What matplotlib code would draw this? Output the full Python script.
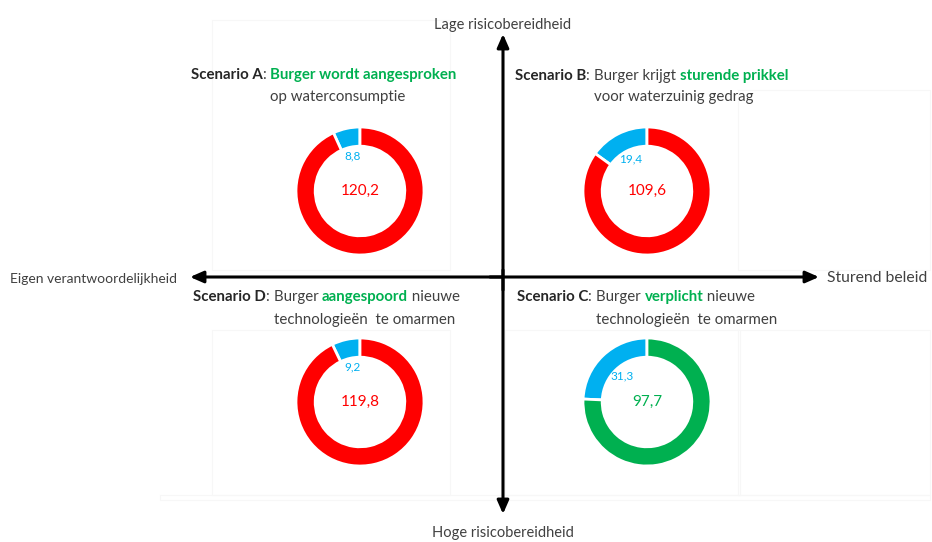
import numpy as np
import matplotlib
matplotlib.use("Agg")
import matplotlib.pyplot as plt

plt.rcParams['font.family'] = ['Lato', 'DejaVu Sans']

# data
scenario_names = ['A', 'B', 'D', 'C']
blue_values = [8.8, 19.4, 9.2, 31.3]
main_values = [120.2, 109.6, 119.8, 97.7]
main_colors = ['#FF0000', '#FF0000', '#FF0000', '#00B050']
blue_color = '#00B0F0'

# title pieces: (text, color, bold)
titles = {
    'A': [[('Scenario A', '#262626', True), (': ', '#404040', False),
           ('Burger wordt aangesproken', '#00B050', True)],
          [('op waterconsumptie', '#404040', False)]],
    'B': [[('Scenario B', '#262626', True), (': ', '#404040', False),
           ('Burger krijgt ', '#404040', False), ('sturende prikkel', '#00B050', True)],
          [('voor waterzuinig gedrag', '#404040', False)]],
    'D': [[('Scenario D', '#262626', True), (': ', '#404040', False),
           ('Burger ', '#404040', False), ('aangespoord', '#00B050', True),
           (' nieuwe', '#404040', False)],
          [('technologieën  te omarmen', '#404040', False)]],
    'C': [[('Scenario C', '#262626', True), (': ', '#404040', False),
           ('Burger ', '#404040', False), ('verplicht', '#00B050', True),
           (' nieuwe', '#404040', False)],
          [('technologieën  te omarmen', '#404040', False)]],
}

W, H = 932, 542
fig = plt.figure(figsize=(W / 100, H / 100), dpi=100)
fig.patch.set_facecolor('white')
ax = fig.add_axes([0, 0, 1, 1])
ax.set_xlim(0, W)
ax.set_ylim(H, 0)
ax.axis('off')

# faint background boxes
for x0, y0, x1, y1 in [(212, 20, 450, 270), (738, 90, 930, 270),
                       (212, 330, 450, 495), (505, 330, 740, 495), (738, 330, 930, 495),
                       (160, 495, 930, 500)]:
    ax.plot([x0, x1, x1, x0, x0], [y0, y0, y1, y1, y0], color='#f7f7f7', lw=0.8, zorder=0)

# axes arrows
arrow = dict(arrowstyle='-|>,head_length=0.8,head_width=0.35', color='black', lw=2.2,
             shrinkA=0, shrinkB=0)
ax.annotate('', xy=(190, 277), xytext=(503, 277), arrowprops=arrow)
ax.annotate('', xy=(819, 277), xytext=(490, 277), arrowprops=arrow)
ax.annotate('', xy=(503, 34), xytext=(503, 290), arrowprops=arrow)
ax.annotate('', xy=(503, 514), xytext=(503, 270), arrowprops=arrow)

ax.text(503, 25, 'Lage risicobereidheid', ha='center', va='center', fontsize=10.5, color='#404040')
ax.text(503, 533, 'Hoge risicobereidheid', ha='center', va='center', fontsize=10.5, color='#404040')
ax.text(10, 279, 'Eigen verantwoordelijkheid', ha='left', va='center', fontsize=10, color='#404040')
ax.text(827, 278, 'Sturend beleid', ha='left', va='center', fontsize=11.3, color='#404040')

renderer = fig.canvas.get_renderer()


def draw_segments(x, y, segments, size=10.8):
    positions = []
    for txt, col, bold in segments:
        t = ax.text(x, y, txt, color=col, fontsize=size, ha='left', va='center',
                    fontweight='bold' if bold else 'normal')
        positions.append(x)
        bb = t.get_window_extent(renderer=renderer)
        x += bb.width
    return positions


title_pos = {'A': (191, 75, 97), 'B': (515, 76, 97), 'D': (193, 297, 320), 'C': (517, 297, 320)}
centers = {'A': (360, 191), 'B': (647, 191), 'D': (360, 402), 'C': (647, 402)}
R = 64

for name, bval, mval, mcol in zip(scenario_names, blue_values, main_values, main_colors):
    x0, y1, y2 = title_pos[name]
    pos = draw_segments(x0, y1, titles[name][0])
    # second line hangs under "Burger"
    draw_segments(pos[2], y2, titles[name][1])

    cx, cy = centers[name]
    dax = fig.add_axes([(cx - R) / W, 1 - (cy + R) / H, 2 * R / W, 2 * R / H])
    wedges, _ = dax.pie([bval, mval], colors=[blue_color, mcol], startangle=90,
                        counterclock=True, radius=1,
                        wedgeprops=dict(width=0.3, edgecolor='white', linewidth=2))
    dax.set_xlim(-1, 1)
    dax.set_ylim(-1, 1)
    dax.axis('off')
    w = wedges[0]
    ang = np.deg2rad((w.theta1 + w.theta2) / 2)
    dax.text(0.56 * np.cos(ang), 0.56 * np.sin(ang), f'{bval:.1f}'.replace('.', ','),
             ha='center', va='center', fontsize=8.5, color=blue_color)
    dax.text(0, 0, f'{mval:.1f}'.replace('.', ','), ha='center', va='center',
             fontsize=11, color=mcol)

fig.savefig('out.png', dpi=100)
